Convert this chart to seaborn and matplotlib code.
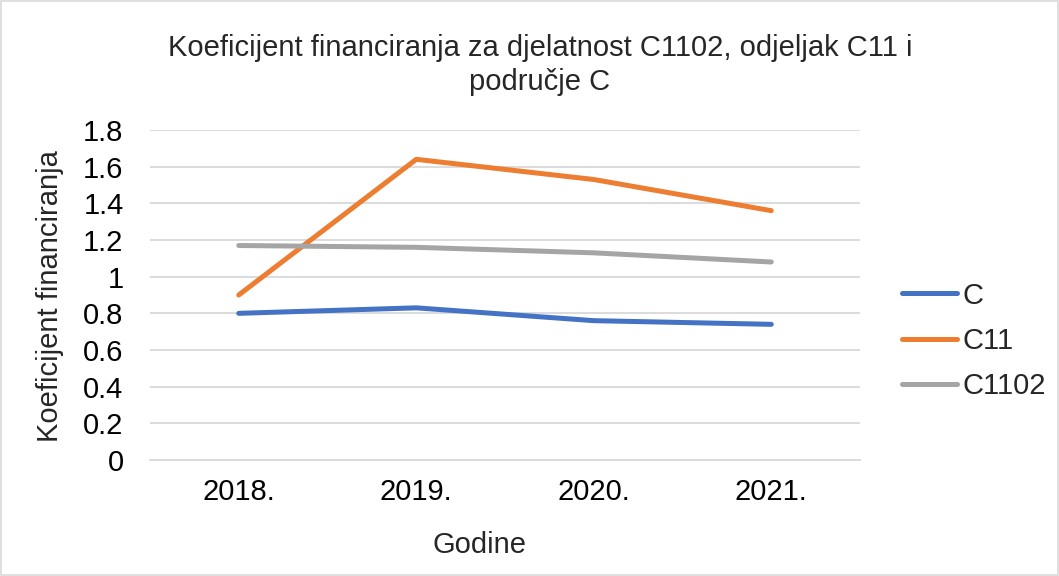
import pandas as pd
import matplotlib
matplotlib.use('Agg')
import matplotlib.pyplot as plt
import seaborn as sns

years = ['2018.', '2019.', '2020.', '2021.']
c_values = [0.80, 0.83, 0.76, 0.74]
c11_values = [0.90, 1.64, 1.53, 1.36]
c1102_values = [1.17, 1.16, 1.13, 1.08]
series_names = ['C', 'C11', 'C1102']
colors = ['#4472C4', '#ED7D31', '#A5A5A5']

sns.set_style('white')
plt.rcParams['font.family'] = ['Liberation Sans', 'DejaVu Sans']

data = pd.DataFrame({
    'Godina': years * 3,
    'Vrijednost': c_values + c11_values + c1102_values,
    'Serija': [s for s in series_names for _ in years],
})

fig = plt.figure(figsize=(10.59, 5.76), dpi=100)
ax = fig.add_axes([150 / 1059, 1 - 460 / 576, 710 / 1059, 330 / 576])

sns.lineplot(data=data, x='Godina', y='Vrijednost', hue='Serija',
             palette=colors, linewidth=3.6, ax=ax, legend=True)

ax.set_xlim(-0.5, 3.5)
ax.set_ylim(0, 1.8)
ax.set_yticks([0, 0.2, 0.4, 0.6, 0.8, 1.0, 1.2, 1.4, 1.6, 1.8])
ax.set_yticklabels(['0', '0.2', '0.4', '0.6', '0.8', '1', '1.2', '1.4', '1.6', '1.8'])
ax.yaxis.grid(True, color='#D9D9D9', linewidth=1.3)
ax.set_axisbelow(True)
for side in ['top', 'right', 'left']:
    ax.spines[side].set_visible(False)
ax.spines['bottom'].set_color('#D9D9D9')
ax.spines['bottom'].set_linewidth(1.3)
ax.tick_params(axis='both', length=0, labelsize=21, colors='black')
ax.tick_params(axis='y', pad=19)
ax.tick_params(axis='x', pad=13)

ax.set_xlabel('')
ax.set_ylabel('')
fig.text(480 / 1059, 1 - 545 / 576, 'Godine', ha='center', va='center', fontsize=21)
fig.text(50 / 1059, 1 - 296 / 576, 'Koeficijent financiranja', ha='center', va='center',
         rotation=90, fontsize=21)
fig.text(540 / 1059, 1 - 65 / 576,
         'Koeficijent financiranja za djelatnost C1102, odjeljak C11 i\npodručje C',
         ha='center', va='center', fontsize=21, linespacing=1.3)

handles, labels = ax.get_legend_handles_labels()
ax.legend(handles, labels, loc='center left', bbox_to_anchor=(887 / 1059, 1 - 341 / 576),
          bbox_transform=fig.transFigure, frameon=False, fontsize=21,
          handlelength=1.9, handletextpad=0.2, labelspacing=0.6, borderpad=0)

fig.patches.append(plt.Rectangle((0.001, 0.001), 0.998, 0.997, transform=fig.transFigure,
                                 fill=False, edgecolor='#D9D9D9', linewidth=1.2))

fig.savefig('out.png', dpi=100)
